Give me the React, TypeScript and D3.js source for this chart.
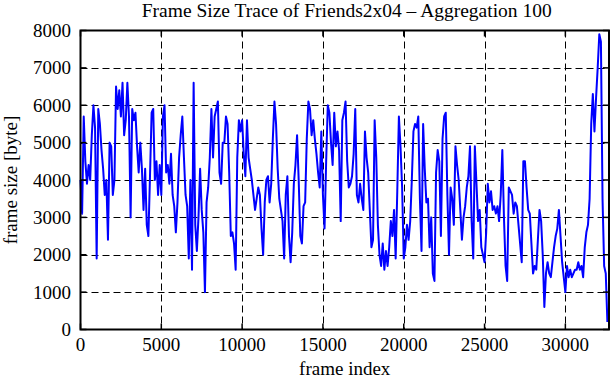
import React from "react";
import * as d3 from "d3";

const frameStep = 100;
const frameSizes: number[] = [
  // 0 - 5300
  4000, 3100, 5700, 4500, 3900, 4400, 4000, 5200, 6000, 5400,
  1900, 5900, 5500, 4800, 4300, 3600, 4000, 2400, 5000, 4900,
  3600, 4000, 6500, 5900, 6400, 5700, 6600, 5200, 5600, 6600,
  5700, 3000, 5900, 5600, 5800, 4900, 4200, 5000, 4300, 3200,
  4300, 2800, 2500, 4100, 5800, 5900, 4000, 4500, 3600, 4400,
  3600, 5700, 6000, 4200,
  // 5400 - 10800
  4400, 3900, 4700, 3600, 3300, 2600, 3400, 4600, 5200, 5700,
  4600, 3600, 3300, 1900, 4000, 1600, 6600, 2800, 2100, 3000,
  4300, 3200, 2600, 1000, 3400, 3800, 4600, 5900, 4600, 5700,
  5900, 6100, 4200, 3900, 5000, 5000, 5700, 5500, 4200, 2500,
  2600, 2300, 1600, 4600, 5600, 5300, 5600, 4700, 4100, 5600,
  4600, 4300, 4000, 3600, 3200,
  // 10900 - 16200
  3500, 3800, 3600, 2700, 2000, 3400, 4000, 4100, 3400, 3900,
  5100, 6100, 5500, 4300, 3500, 3200, 2900, 1900, 3600, 4100,
  2500, 1800, 2600, 3900, 4400, 5200, 4000, 2500, 2300, 3300,
  3400, 5100, 6100, 5900, 5200, 5600, 5100, 4700, 4200, 3800,
  5300, 3600, 2700, 4500, 6000, 5800, 5000, 4400, 5800, 4900,
  5300, 4800, 2900, 5600,
  // 16300 - 21700
  5800, 6100, 4500, 3800, 3900, 4100, 4700, 5900, 3600, 3400,
  3900, 3500, 3200, 5300, 4600, 4200, 3200, 2200, 2400, 5600,
  4600, 2800, 2000, 1700, 2300, 1600, 2100, 1700, 2200, 2900,
  2500, 3200, 1900, 3700, 5700, 4900, 3800, 1900, 2200, 2800,
  2400, 2900, 4000, 5300, 5500, 5400, 5700, 3500, 2100, 5500,
  4300, 3400, 3500, 2200, 3000,
  // 21800 - 27100
  1500, 1300, 4200, 4800, 4500, 2500, 5100, 5700, 5800, 3600,
  2000, 3800, 3500, 2800, 4900, 4400, 4000, 3200, 2400, 3000,
  3300, 3800, 4100, 4900, 2900, 1900, 4900, 3900, 2900, 3200,
  2200, 2000, 1800, 2600, 3900, 3400, 3700, 3200, 3300, 3100,
  3300, 2900, 3600, 4800, 3000, 1700, 1300, 3800, 3700, 3600,
  3100, 3400, 3300, 2800,
  // 27200 - 32600
  2300, 1800, 4500, 4500, 3800, 3200, 3100, 2300, 1500, 1700,
  1600, 2400, 3200, 2900, 2000, 600, 1500, 1800, 1500, 1400,
  1800, 2200, 2500, 2700, 3200, 2500, 1800, 1400, 1000, 1700,
  1400, 1600, 1400, 1500, 1600, 1600, 1800, 1600, 1700, 1400,
  2200, 2600, 2800, 3500, 5500, 6300, 5300, 6200, 7000, 7900,
  7700, 3500, 1700, 1500, 200,
];

const xTicks = [0, 5000, 10000, 15000, 20000, 25000, 30000];
const yTicks = [0, 1000, 2000, 3000, 4000, 5000, 6000, 7000, 8000];
const xMax = 32700;
const yMax = 8000;
const title = "Frame Size Trace of Friends2x04 \u2013 Aggregation 100";
const xLabel = "frame index";
const yLabel = "frame size [byte]";

export default function App() {
  const W = 611;
  const H = 380;
  const left = 80.5;
  const right = 609;
  const top = 30.5;
  const bottom = 329.5;
  const x = d3.scaleLinear().domain([0, xMax]).range([left, right]);
  const y = d3.scaleLinear().domain([0, yMax]).range([bottom, top]);
  const pts: [number, number][] = frameSizes.map((v, i) => [i * frameStep, v]);
  const line = d3
    .line<[number, number]>()
    .x((d) => x(d[0]))
    .y((d) => y(d[1]));
  const font = "'Liberation Serif', 'DejaVu Serif', serif";
  const fs = 19;
  const tick = 6;
  return (
    <svg
      width={W}
      height={H}
      style={{ position: "absolute", left: 0, top: 0, background: "#fff" }}
      fontFamily={font}
    >
      <rect x={0} y={0} width={W} height={H} fill="#fff" />
      {/* grid */}
      {yTicks
        .filter((t) => t > 0 && t < yMax)
        .map((t) => (
          <line
            key={"gy" + t}
            x1={left}
            x2={right}
            y1={Math.round(y(t)) + 0.5}
            y2={Math.round(y(t)) + 0.5}
            stroke="#000"
            strokeWidth={1}
            strokeDasharray="7,4"
          />
        ))}
      {xTicks
        .filter((t) => t > 0)
        .map((t) => (
          <line
            key={"gx" + t}
            x1={Math.round(x(t)) + 0.5}
            x2={Math.round(x(t)) + 0.5}
            y1={top}
            y2={bottom}
            stroke="#000"
            strokeWidth={1}
            strokeDasharray="7,4"
          />
        ))}
      {/* data line */}
      <path
        d={line(pts) || ""}
        fill="none"
        stroke="#0000ff"
        strokeWidth={2}
        strokeLinejoin="round"
      />
      {/* ticks */}
      {xTicks.map((t) => (
        <g key={"tx" + t}>
          <line x1={x(t)} x2={x(t)} y1={bottom} y2={bottom - tick} stroke="#000" strokeWidth={1.5} />
          <line x1={x(t)} x2={x(t)} y1={top} y2={top + tick} stroke="#000" strokeWidth={1.5} />
        </g>
      ))}
      {yTicks.map((t) => (
        <g key={"ty" + t}>
          <line x1={left} x2={left + tick} y1={y(t)} y2={y(t)} stroke="#000" strokeWidth={1.5} />
          <line x1={right} x2={right - tick} y1={y(t)} y2={y(t)} stroke="#000" strokeWidth={1.5} />
        </g>
      ))}
      {/* border */}
      <rect
        x={left}
        y={top}
        width={right - left}
        height={bottom - top}
        fill="none"
        stroke="#000"
        strokeWidth={2}
      />
      {/* tick labels */}
      {xTicks.map((t) => (
        <text key={"lx" + t} x={x(t)} y={351} textAnchor="middle" fontSize={fs} fill="#000">
          {t}
        </text>
      ))}
      {yTicks.map((t) => (
        <text key={"ly" + t} x={71} y={y(t) + 6.5} textAnchor="end" fontSize={fs} fill="#000">
          {t}
        </text>
      ))}
      <text x={(left + right) / 2 + 2} y={17} textAnchor="middle" fontSize={19.5} fill="#000">
        {title}
      </text>
      <text x={(left + right) / 2} y={375} textAnchor="middle" fontSize={fs} fill="#000">
        {xLabel}
      </text>
      <text
        transform={`translate(17, ${(top + bottom) / 2}) rotate(-90)`}
        textAnchor="middle"
        fontSize={fs}
        fill="#000"
      >
        {yLabel}
      </text>
    </svg>
  );
}
